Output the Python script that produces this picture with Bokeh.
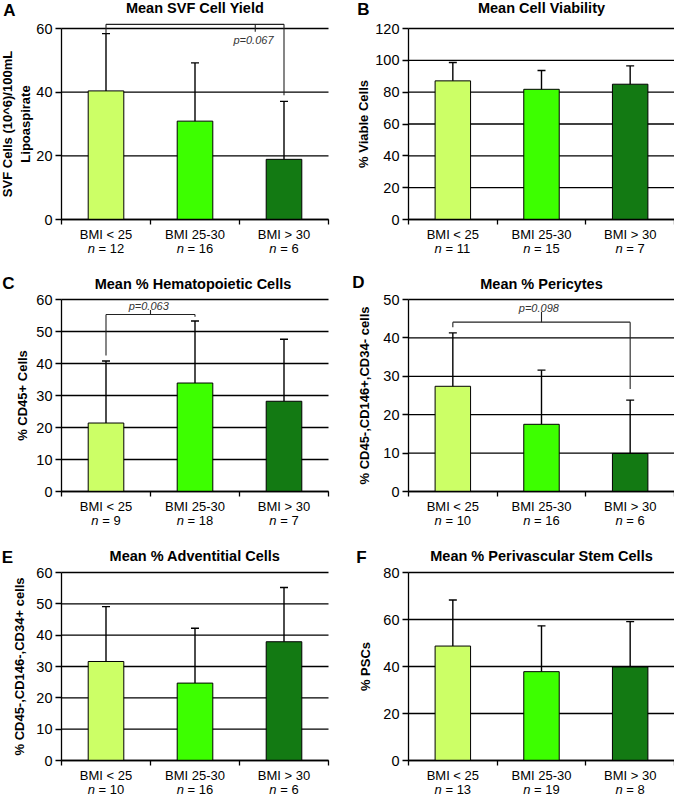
from bokeh.plotting import figure
from bokeh.layouts import gridplot
from bokeh.models import Range1d, FixedTicker, Label, ColumnDataSource
from bokeh.embed import file_html
from bokeh.resources import INLINE

FONT = "Liberation Sans"

categories = ["BMI < 25", "BMI 25-30", "BMI > 30"]
bar_colors = ["#CCFF66", "#3DFF00", "#137A13"]

# ---- data ----
a_title = "Mean SVF Cell Yield"
a_ylabel = "SVF Cells (10^6)/100mL\nLipoaspirate"
a_means = [40.4, 30.9, 18.9]
a_upper = [58.4, 49.2, 37.1]
a_n = [12, 16, 6]
a_ticks = [0, 20, 40, 60]

b_title = "Mean Cell Viability"
b_ylabel = "% Viable Cells"
b_means = [87.1, 81.8, 85.0]
b_upper = [98.6, 93.6, 96.5]
b_n = [11, 15, 7]
b_ticks = [0, 20, 40, 60, 80, 100, 120]

c_title = "Mean  % Hematopoietic Cells"
c_ylabel = "% CD45+ Cells"
c_means = [21.4, 33.9, 28.2]
c_upper = [40.8, 53.3, 47.6]
c_n = [9, 18, 7]
c_ticks = [0, 10, 20, 30, 40, 50, 60]

d_title = "Mean % Pericytes"
d_ylabel = "% CD45-,CD146+,CD34- cells"
d_means = [27.4, 17.5, 9.9]
d_upper = [41.3, 31.6, 23.8]
d_n = [10, 16, 6]
d_ticks = [0, 10, 20, 30, 40, 50]

e_title = "Mean % Adventitial Cells"
e_ylabel = "% CD45-,CD146-,CD34+ cells"
e_means = [31.6, 24.7, 37.9]
e_upper = [49.1, 42.2, 55.2]
e_n = [10, 16, 6]
e_ticks = [0, 10, 20, 30, 40, 50, 60]

f_title = "Mean % Perivascular Stem Cells"
f_ylabel = "% PSCs"
f_means = [48.7, 37.8, 39.8]
f_upper = [68.3, 57.3, 59.1]
f_n = [13, 19, 8]
f_ticks = [0, 20, 40, 60, 80]

# significance brackets: left cat, right cat, level, left drop end, right drop end,
# middle tick x, middle tick end, p text, text x, text y
a_bracket = dict(xl=0, xr=2, y=61.3, lb=58.4, rb=39.0, tx=2.177, te=59.0, p="p=0.067", px=2.157, py=56.5)
c_bracket = dict(xl=0, xr=1, y=55.3, lb=42.5, rb=54.6, tx=1.0, te=56.7, p="p=0.063", px=0.98, py=58.0)
d_bracket = dict(xl=0, xr=2, y=44.1, lb=42.8, rb=26.7, tx=1.5, te=46.8, p="p=0.098", px=1.47, py=47.8)

# ---- layout (pixels) ----
ROWS = [dict(height=262, top=28, bottom=43, title_off=21),
        dict(height=268, top=37, bottom=39, title_off=16),
        dict(height=266, top=42, bottom=36, title_off=17)]
COLS = [dict(width=335, left=61, right=7), dict(width=339, left=73, right=0)]
NCAT = len(categories)


def make_panel(letter, title, ylabel, means, upper, ns, ticks, row, col,
               letter_off, label_standoff, bracket=None):
    r = ROWS[row]
    c = COLS[col]
    ymax = ticks[-1]
    frame_w = c["width"] - c["left"] - c["right"]
    ppx = frame_w / NCAT
    frame_h = r["height"] - r["top"] - r["bottom"]
    ppu = frame_h / ymax

    x_range = Range1d(-c["left"] / ppx, NCAT + c["right"] / ppx)
    y_range = Range1d(-r["bottom"] / ppu, ymax + r["top"] / ppu)

    p = figure(width=c["width"], height=r["height"], x_range=x_range, y_range=y_range,
               output_backend="svg", toolbar_location=None, tools="",
               min_border=0)
    p.title.visible = False
    p.outline_line_color = None
    p.background_fill_color = "white"
    p.border_fill_color = "white"
    p.xgrid.visible = False
    p.ygrid.visible = False

    xs = [i + 0.5 for i in range(NCAT)]
    src = ColumnDataSource(dict(x=xs, top=means, upper=upper, color=bar_colors,
                                cl=[x - 0.045 for x in xs], cr=[x + 0.045 for x in xs]))

    # horizontal grid lines at the tick values
    p.segment(x0=[0] * len(ticks), x1=[NCAT] * len(ticks), y0=ticks, y1=ticks,
              line_color="black", line_width=1.3)

    # y axis
    yax = p.yaxis[0]
    yax.fixed_location = 0
    yax.ticker = FixedTicker(ticks=ticks, minor_ticks=[])
    yax.bounds = (0, ymax)
    yax.axis_line_color = "black"
    yax.axis_line_width = 1.3
    yax.major_tick_line_color = "black"
    yax.major_tick_line_width = 1.3
    yax.major_tick_in = 0
    yax.major_tick_out = 6
    yax.minor_tick_line_color = None
    yax.major_label_standoff = 3
    yax.major_label_text_font = FONT
    yax.major_label_text_font_size = "14.5px"
    yax.major_label_text_color = "black"
    yax.axis_label = ylabel
    yax.axis_label_text_font = FONT
    yax.axis_label_text_font_size = "13px"
    yax.axis_label_text_font_style = "bold"
    yax.axis_label_text_color = "black"
    yax.axis_label_standoff = label_standoff

    # x axis
    xax = p.xaxis[0]
    xax.fixed_location = 0
    xax.bounds = (0, NCAT)
    xax.ticker = FixedTicker(ticks=xs, minor_ticks=list(range(NCAT + 1)))
    xax.major_label_overrides = {x: cat for x, cat in zip(xs, categories)}
    xax.axis_line_color = "black"
    xax.axis_line_width = 1.3
    xax.major_tick_line_color = None
    xax.major_tick_in = 0
    xax.major_tick_out = 0
    xax.minor_tick_line_color = "black"
    xax.minor_tick_line_width = 1.3
    xax.minor_tick_in = 0
    xax.minor_tick_out = 5
    xax.major_label_standoff = 2
    xax.major_label_text_font = FONT
    xax.major_label_text_font_size = "13px"
    xax.major_label_text_color = "black"

    # bars and upper error bars
    p.vbar(x="x", top="top", bottom=0, width=0.4, fill_color="color",
           line_color="black", line_width=1, source=src)
    p.segment(x0="x", y0="top", x1="x", y1="upper", line_color="black",
              line_width=1.4, source=src)
    p.segment(x0="cl", y0="upper", x1="cr", y1="upper", line_color="black",
              line_width=1.4, source=src)

    if bracket is not None:
        xl = xs[bracket["xl"]]
        xr = xs[bracket["xr"]]
        yb = bracket["y"]
        p.segment(x0=[xl, xl, xr, bracket["tx"]],
                  y0=[yb, yb, yb, yb],
                  x1=[xr, xl, xr, bracket["tx"]],
                  y1=[yb, bracket["lb"], bracket["rb"], bracket["te"]],
                  line_color="#222222", line_width=1.1)
        p.add_layout(Label(x=bracket["px"], y=bracket["py"], text=bracket["p"],
                           text_font=FONT, text_font_size="11px",
                           text_font_style="italic", text_color="#333333",
                           text_align="center", text_baseline="middle"))

    # n = ... labels (italic n)
    fs = 13
    for x, n in zip(xs, ns):
        digits = len(str(n))
        total = (0.556 + 0.278 + 0.584 + 0.278 + 0.556 * digits) * fs
        left = -total / 2
        p.add_layout(Label(x=x, y=0, x_offset=left, y_offset=-29, text="n",
                           text_font=FONT, text_font_size="13px",
                           text_font_style="italic", text_color="black",
                           text_align="left", text_baseline="middle"))
        p.add_layout(Label(x=x, y=0, x_offset=left + (0.556 + 0.278) * fs,
                           y_offset=-29, text="= %d" % n,
                           text_font=FONT, text_font_size="13px",
                           text_color="black",
                           text_align="left", text_baseline="middle"))

    # title and panel letter
    p.add_layout(Label(x=NCAT / 2, y=ymax, y_offset=r["title_off"], text=title,
                       text_font=FONT, text_font_size="14.5px",
                       text_font_style="bold", text_color="black",
                       text_align="center", text_baseline="middle"))
    p.add_layout(Label(x=0, y=ymax, x_offset=letter_off[0], y_offset=letter_off[1],
                       text=letter, text_font=FONT, text_font_size="17px",
                       text_font_style="bold", text_color="black",
                       text_align="center", text_baseline="middle"))
    return p


pa = make_panel("A", a_title, a_ylabel, a_means, a_upper, a_n, a_ticks, 0, 0,
                (-52, 18), 0, bracket=a_bracket)
pb = make_panel("B", b_title, b_ylabel, b_means, b_upper, b_n, b_ticks, 0, 1,
                (-45, 19), 1)
pc = make_panel("C", c_title, c_ylabel, c_means, c_upper, c_n, c_ticks, 1, 0,
                (-53, 16), 3, bracket=c_bracket)
pd = make_panel("D", d_title, d_ylabel, d_means, d_upper, d_n, d_ticks, 1, 1,
                (-50, 17.5), 8, bracket=d_bracket)
pe = make_panel("E", e_title, e_ylabel, e_means, e_upper, e_n, e_ticks, 2, 0,
                (-54, 15.5), 6)
pf = make_panel("F", f_title, f_ylabel, f_means, f_upper, f_n, f_ticks, 2, 1,
                (-47, 15), 7)

grid = gridplot([[pa, pb], [pc, pd], [pe, pf]], toolbar_location=None)

open("out.html", "w").write(file_html(grid, INLINE))
